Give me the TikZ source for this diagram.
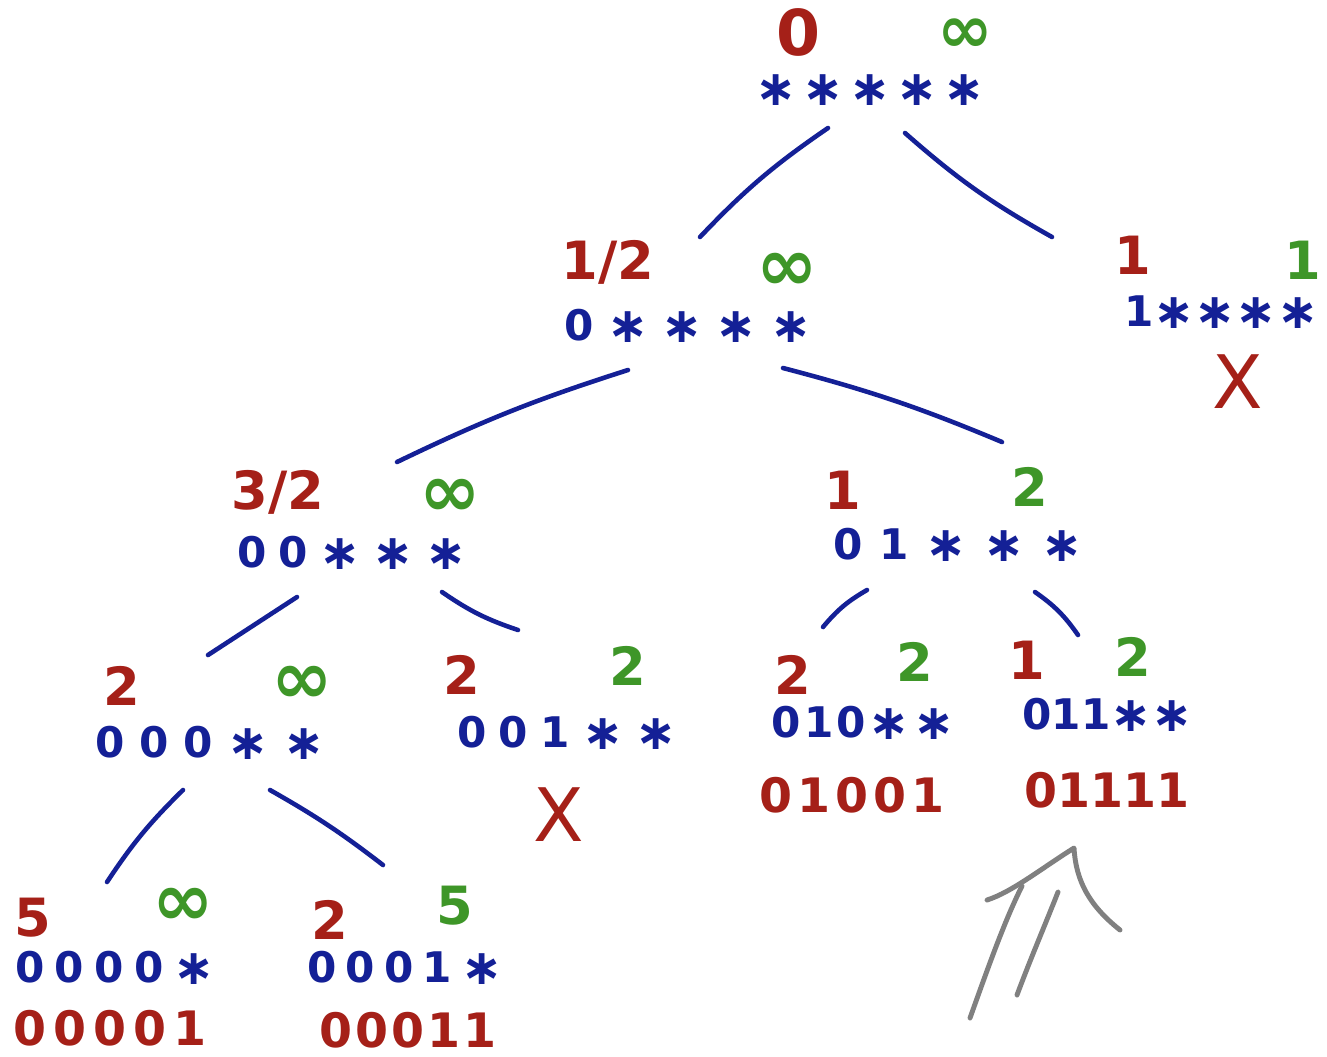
\documentclass[tikz,border=0pt]{standalone}
\usepackage{fontspec}
\setmainfont{DejaVu Sans}
\definecolor{hred}{RGB}{165,32,24}
\definecolor{hblue}{RGB}{20,32,150}
\definecolor{hgreen}{RGB}{62,150,40}
\definecolor{hgray}{RGB}{128,128,128}
\newdimen\pxu \pxu=0.2mm
\def\spr#1#2{\hbox to #1\pxu{\sprloop#2\relax}}
\def\sprloop#1#2{#1\ifx\relax#2\else\hfil\expandafter\sprloop\expandafter#2\fi}
\newcommand\st{\raisebox{-1.3pt}{\fontsize{28}{28}\selectfont ∗}}
\tikzset{
  bluestr/.style={text=hblue, inner sep=0pt, font=\bfseries\fontsize{24}{24}\selectfont},
  redres/.style={text=hred, inner sep=0pt, font=\bfseries\fontsize{27}{27}\selectfont},
  lbl/.style={text=hred, inner sep=0pt, font=\bfseries\fontsize{30}{30}\selectfont},
  ubl/.style={text=hgreen, inner sep=0pt, font=\bfseries\fontsize{30}{30}\selectfont},
  inf/.style={text=hgreen, inner sep=0pt, font=\bfseries\fontsize{42}{42}\selectfont},
  cross/.style={text=hred, inner sep=0pt, font=\fontsize{42}{42}\selectfont},
  edge/.style={draw=hblue, line width=2.6pt, line cap=round},
  arr/.style={draw=hgray, line width=2.8pt, line cap=round, line join=round}
}
\begin{document}
\begin{tikzpicture}[x=0.02cm,y=-0.02cm]
\fill[white] (0,0) rectangle (1327,1056);
\useasboundingbox (0,0) rectangle (1327,1056);
% blue partial assignments
\node[bluestr] (root)  at (870,90)  {\spr{230}{\st\st\st\st\st}};
\node[bluestr] (n0)    at (688,326) {\spr{247}{0\st\st\st\st}};
\node[bluestr] (n1)    at (1220,312){\spr{192}{1\st\st\st\st}};
\node[bluestr] (n00)   at (352,553) {\spr{230}{00\st\st\st}};
\node[bluestr] (n01)   at (958,545) {\spr{250}{01\st\st\st}};
\node[bluestr] (n000)  at (210,743) {\spr{230}{000\st\st}};
\node[bluestr] (n001)  at (567,733) {\spr{220}{001\st\st}};
\node[bluestr] (n010)  at (863,723) {\spr{183}{010\st\st}};
\node[bluestr] (n011)  at (1100,715){\spr{155}{011\st\st}};
\node[bluestr] (n0000) at (115,968) {\spr{200}{0000\st}};
\node[bluestr] (n0001) at (405,968) {\spr{195}{0001\st}};
% red completed solutions
\node[redres] (n010-res)  at (852,795)  {\spr{185}{01001}};
\node[redres] (n011-res)  at (1103,790) {\spr{157}{01111}};
\node[redres] (n0000-res) at (110,1028) {\spr{193}{00001}};
\node[redres] (n0001-res) at (408,1030) {\spr{177}{00011}};
% bounds
\node[lbl,font=\bfseries\fontsize{36}{36}\selectfont] (root-lb) at (798,32) {0};
\node[inf,font=\bfseries\fontsize{38}{38}\selectfont] (root-ub) at (965,36) {∞};
\node[lbl] (n0-lb) at (608,262) {1/2};
\node[inf] (n0-ub) at (787,272) {∞};
\node[lbl] (n1-lb) at (1133,255) {1};
\node[ubl] (n1-ub) at (1303,260) {1};
\node[cross] (n1-x) at (1238,382) {X};
\node[lbl] (n00-lb) at (278,492) {3/2};
\node[inf] (n00-ub) at (450,498) {∞};
\node[lbl] (n01-lb) at (843,490) {1};
\node[ubl] (n01-ub) at (1030,487) {2};
\node[lbl] (n000-lb) at (122,686) {2};
\node[inf] (n000-ub) at (302,685) {∞};
\node[lbl] (n001-lb) at (462,675) {2};
\node[ubl] (n001-ub) at (628,666) {2};
\node[cross] (n001-x) at (559,815) {X};
\node[lbl] (n010-lb) at (793,675) {2};
\node[ubl] (n010-ub) at (915,662) {2};
\node[lbl] (n011-lb) at (1027,660) {1};
\node[ubl] (n011-ub) at (1133,657) {2};
\node[lbl] (n0000-lb) at (33,918) {5};
\node[inf] (n0000-ub) at (183,907) {∞};
\node[lbl] (n0001-lb) at (330,920) {2};
\node[ubl] (n0001-ub) at (455,906) {5};
% tree edges
\draw[edge] ([shift={(-42,38)}]root.center) to[bend right=6] ([shift={(12,-89)}]n0.center);
\draw[edge] ([shift={(35,43)}]root.center) to[bend right=6] ([shift={(-168,-75)}]n1.center);
\draw[edge] ([shift={(-60,44)}]n0.center) to[bend right=4] ([shift={(45,-91)}]n00.center);
\draw[edge] ([shift={(95,42)}]n0.center) to[bend left=4] ([shift={(44,-103)}]n01.center);
\draw[edge] ([shift={(-55,44)}]n00.center) -- ([shift={(-2,-88)}]n000.center);
\draw[edge] ([shift={(90,39)}]n00.center) to[bend right=8] ([shift={(-49,-103)}]n001.center);
\draw[edge] ([shift={(-91,45)}]n01.center) to[bend right=10] ([shift={(-40,-96)}]n010.center);
\draw[edge] ([shift={(77,47)}]n01.center) to[bend left=10] ([shift={(-22,-80)}]n011.center);
\draw[edge] ([shift={(-27,47)}]n000.center) to[bend right=6] ([shift={(-8,-86)}]n0000.center);
\draw[edge] ([shift={(60,47)}]n000.center) to[bend left=4] ([shift={(-22,-103)}]n0001.center);
% gray arrow pointing at the best solution
\coordinate (tip) at ([shift={(-29,58)}]n011-res.center);
\draw[arr] (987,900) .. controls (1012,892) and (1042,868) .. (tip)
           .. controls (1076,882) and (1090,906) .. (1120,930);
\draw[arr] (970,1018) .. controls (990,962) and (1005,920) .. (1022,886);
\draw[arr] (1017,995) .. controls (1030,960) and (1045,925) .. (1058,892);
\end{tikzpicture}
\end{document}
